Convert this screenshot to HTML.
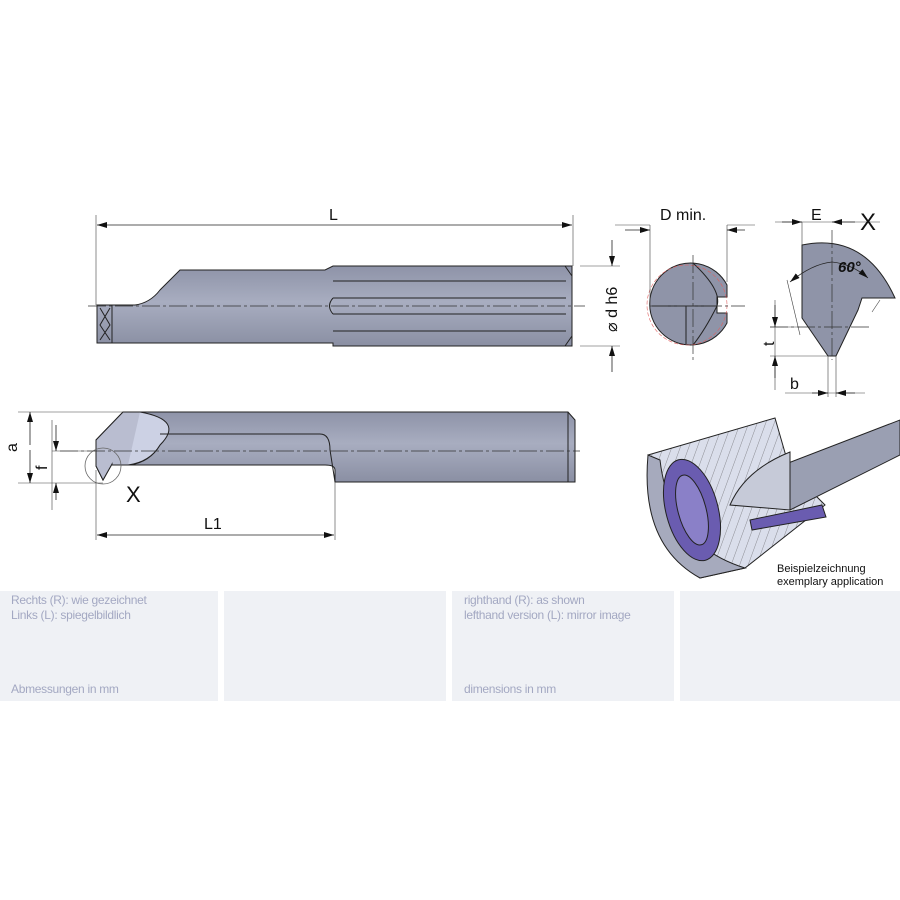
<!DOCTYPE html>
<html><head><meta charset="utf-8"><style>
body{margin:0;background:#fff;width:900px;height:900px;overflow:hidden;font-family:"Liberation Sans",sans-serif}
.p{position:absolute;top:591px;height:110px;background:#eff1f5}
.t{position:absolute;color:#a3a8c2;font-size:12px;letter-spacing:-0.3px;line-height:15px}
</style></head><body>
<svg width="900" height="900" style="position:absolute;left:0;top:0" font-family="Liberation Sans, sans-serif">
<defs>
<linearGradient id="g" x1="0" y1="0" x2="0" y2="1"><stop offset="0" stop-color="#8e93a8"/><stop offset=".45" stop-color="#a8adc0"/><stop offset="1" stop-color="#8a8fa3"/></linearGradient>
<pattern id="h" width="8" height="8" patternUnits="userSpaceOnUse" patternTransform="rotate(20)"><rect width="8" height="8" fill="#dadeeb"/><line x1="0" y1="0" x2="0" y2="8" stroke="#555" stroke-width="0.6"/></pattern>
<marker id="a" viewBox="0 0 10 6" refX="10" refY="3" markerWidth="10" markerHeight="6" orient="auto-start-reverse" markerUnits="userSpaceOnUse"><path d="M0,0L10,3L0,6z" fill="#111"/></marker>
</defs>
<g stroke="#222" stroke-width="1">
<path d="M97,305 L135,305 Q150,303 160,290 L180,270 L325,270 L333,266 L572,266 L572,346 L333,346 L333,343 L97,343 Z" fill="url(#g)"/>
<path d="M565,266 L572,276 L572,336 L565,346 M333,281 H566 M333,298 H566 M333,314 H566 M333,331 H566 M112,305 V343 M100,308 L110,325 L100,340 M110,308 L100,325 L110,340" fill="none"/>
<path d="M333,298 Q326,306 333,314" fill="#a9aec0"/>
<path d="M96,440 L123,412 L568,412 L575,420 L575,482 L335,482 L335,470 Q335,465 325,465 L112,465 L112,464 L103,480 L96,466 Z" fill="url(#g)"/>
<path d="M123,412 L140,412 Q180,425 160,445 Q150,462 130,465 L112,465 L112,464 L103,480 L96,466 L96,440 Z" fill="#b9bdd0"/>
<path d="M140,412 Q185,420 160,445 Q150,462 128,465" fill="#ccd1e4"/>
<path d="M160,434 L320,434 Q330,434 330,450 L335,482 M568,412 V482" fill="none"/>
<path d="M727,285 A41,41 0 1 0 727,323 L727,313 L717,313 L717,297 L727,297 Z" fill="#8f94a8"/>
<path d="M652,306 H717 M686,306 V344 M693,263 Q722,290 717,306 Q705,330 693,345" fill="none"/>
<path d="M802,245 Q865,232 895,298 L862,298 L858,310 L836,356 L828,356 L802,318 Z" fill="#8f94a8"/>
</g>
<circle cx="687" cy="305" r="40" fill="none" stroke="#e06060" stroke-width="0.6" stroke-dasharray="4 2"/>
<circle cx="103" cy="466" r="18" fill="none" stroke="#666" stroke-width="0.8"/>
<g stroke="#333" stroke-width="0.7" fill="none" stroke-dasharray="18 3 3 3">
<path d="M88,306 H585 M60,451 H580 M650,306 H745 M693,255 V360 M832,230 V360 M770,327 H870"/>
</g>
<g stroke="#444" stroke-width="0.6" fill="none">
<path d="M96,215 V305 M573,215 V266 M580,266 H620 M580,346 H620 M615,225 H650 M727,225 H755 M650,225 V305 M727,225 V282 M775,222 H880 M802,222 V245 M787,280 L800,335 M880,300 L872,312 M770,327 H800 M770,356 H830 M775,300 V390 M785,393 H865 M828,356 V397 M836,356 V397 M18,412 H123 M18,483 H103 M52,451 H96 M52,420 V510 M96,470 V540 M335,482 V540"/>
</g>
<g stroke="#222" stroke-width="0.8" fill="none" marker-end="url(#a)">
<line x1="335" y1="225" x2="97" y2="225"/><line x1="335" y1="225" x2="572" y2="225"/>
<line x1="612" y1="240" x2="612" y2="266"/><line x1="612" y1="372" x2="612" y2="346"/>
<line x1="625" y1="230" x2="650" y2="230"/><line x1="745" y1="230" x2="727" y2="230"/>
<line x1="782" y1="222" x2="802" y2="222"/><line x1="855" y1="222" x2="832" y2="222"/>
<line x1="775" y1="305" x2="775" y2="327"/><line x1="775" y1="378" x2="775" y2="356"/>
<line x1="812" y1="393" x2="828" y2="393"/><line x1="855" y1="393" x2="836" y2="393"/>
<line x1="30" y1="445" x2="30" y2="412"/><line x1="30" y1="450" x2="30" y2="483"/>
<line x1="56" y1="425" x2="56" y2="451"/><line x1="56" y1="500" x2="56" y2="483"/>
<line x1="215" y1="535" x2="97" y2="535"/><line x1="215" y1="535" x2="334" y2="535"/>
<path d="M832,262 Q812,264 790,282"/><path d="M832,262 Q852,264 868,278"/>
</g>
<g fill="#111" font-size="16">
<text x="329" y="220">L</text>
<text x="660" y="220">D min.</text>
<text x="811" y="220">E</text>
<text x="860" y="230" font-size="24">X</text>
<text x="838" y="272" font-size="15" font-weight="bold" font-style="italic">60°</text>
<text x="126" y="502" font-size="22">X</text>
<text x="204" y="529">L1</text>
<text x="790" y="389">b</text>
<text transform="translate(617,332) rotate(-90)" font-size="16">⌀ d h6</text>
<text transform="translate(17,452) rotate(-90)">a</text>
<text transform="translate(47,470) rotate(-90)">f</text>
<text transform="translate(774,346) rotate(-90)">t</text>
</g>
<g stroke="#222" stroke-width="1">
<path d="M648,455 L775,418 L790,470 L825,505 L745,568 L700,578 Z" fill="url(#h)"/>
<path d="M648,455 Q640,545 700,578 L745,568 Q670,545 660,460 Z" fill="#a6aabd"/>
<ellipse cx="692" cy="510" rx="26" ry="52" fill="#6a5cb0" transform="rotate(-15 692 510)"/>
<ellipse cx="692" cy="510" rx="14" ry="36" fill="#8a80c8" transform="rotate(-15 692 510)"/>
<path d="M900,420 L900,455 L790,510 L770,470 Z" fill="#9a9fb2"/>
<path d="M790,452 Q745,470 730,505 L790,510 Z" fill="#c6cad8"/>
<path d="M750,520 L822,505 L826,517 L752,530 Z" fill="#6a5cb0"/>
</g>
<text x="777" y="572" font-size="11" fill="#111">Beispielzeichnung</text>
<text x="777" y="585" font-size="11" fill="#111">exemplary application</text>
</svg>
<div class="p" style="left:0;width:218px"></div>
<div class="p" style="left:224px;width:222px"></div>
<div class="p" style="left:452px;width:222px"></div>
<div class="p" style="left:680px;width:220px"></div>
<div class="t" style="left:11px;top:593px">Rechts (R): wie gezeichnet<br>Links (L): spiegelbildlich</div>
<div class="t" style="left:11px;top:682px">Abmessungen in mm</div>
<div class="t" style="left:464px;top:593px">righthand (R): as shown<br>lefthand version (L): mirror image</div>
<div class="t" style="left:464px;top:682px">dimensions in mm</div>
</body></html>
